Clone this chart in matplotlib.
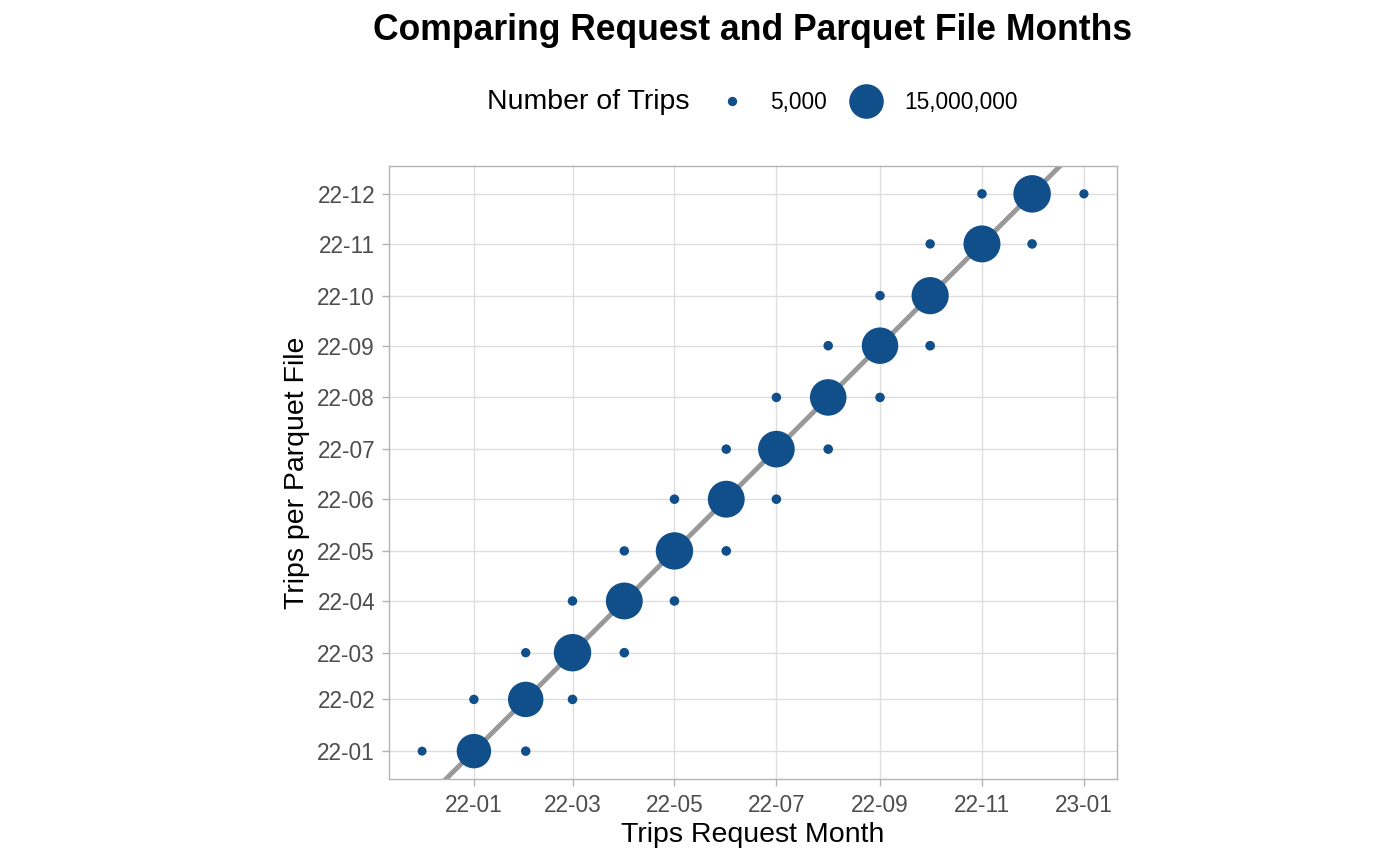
import numpy as np
import matplotlib
matplotlib.use("Agg")
from matplotlib import pyplot as plt
import matplotlib.dates as mdates
from matplotlib.lines import Line2D

# request month (x), parquet file month (y), number of trips
request_month = [
    "2022-01", "2022-02", "2022-03", "2022-04", "2022-05", "2022-06",
    "2022-07", "2022-08", "2022-09", "2022-10", "2022-11", "2022-12",
    "2021-12", "2022-02", "2022-01", "2022-03", "2022-02", "2022-04",
    "2022-03", "2022-05", "2022-04", "2022-06", "2022-05", "2022-07",
    "2022-06", "2022-08", "2022-07", "2022-09", "2022-08", "2022-10",
    "2022-09", "2022-10", "2022-12", "2022-11", "2023-01",
]
file_month = [
    "2022-01", "2022-02", "2022-03", "2022-04", "2022-05", "2022-06",
    "2022-07", "2022-08", "2022-09", "2022-10", "2022-11", "2022-12",
    "2022-01", "2022-01", "2022-02", "2022-02", "2022-03", "2022-03",
    "2022-04", "2022-04", "2022-05", "2022-05", "2022-06", "2022-06",
    "2022-07", "2022-07", "2022-08", "2022-08", "2022-09", "2022-09",
    "2022-10", "2022-11", "2022-11", "2022-12", "2022-12",
]
trips = [
    14800000, 16000000, 18500000, 17800000, 18400000, 17800000,
    17500000, 17400000, 17300000, 18200000, 17900000, 18600000,
    2100, 8400, 6300, 9100, 5200, 11800,
    7400, 10200, 6900, 12500, 8800, 9700,
    7100, 10900, 6600, 9300, 8200, 12100,
    7800, 6400, 10600, 9000, 3100,
]
legend_values = [5000, 15000000]
legend_labels = ["5,000", "15,000,000"]

POINT_COLOR = "#114F8A"
LINE_COLOR = "#999999"
GRID_COLOR = "#DEDEDE"
BORDER_COLOR = "#B3B3B3"
FONT = "Liberation Sans"

x = mdates.date2num(np.array(request_month, dtype="datetime64[D]"))
y = mdates.date2num(np.array(file_month, dtype="datetime64[D]"))
trips = np.array(trips, dtype=float)

vmin, vmax = trips.min(), trips.max()


def diam_pt(v):
    # area scale, ~9px to ~37.5px diameter
    px = 9 + 28.5 * np.sqrt(np.clip((np.asarray(v, float) - vmin) / (vmax - vmin), 0, 1))
    return px * 0.72


plt.rcParams["font.family"] = [FONT, "DejaVu Sans"]

fig = plt.figure(figsize=(14, 8.65), dpi=100)
ax = fig.add_axes([389 / 1400, 1 - 779 / 865, 728 / 1400, 613 / 865])

# y = x reference line
ax.axline((x.min(), x.min()), slope=1, color=LINE_COLOR, lw=3.5, zorder=2)
ax.scatter(x, y, s=diam_pt(trips) ** 2, color=POINT_COLOR, edgecolors="none", zorder=3)

xr = x.max() - x.min()
yr = y.max() - y.min()
ax.set_xlim(x.min() - 0.05 * xr, x.max() + 0.05 * xr)
ax.set_ylim(y.min() - 0.05 * yr, y.max() + 0.05 * yr)

ax.xaxis.set_major_locator(mdates.MonthLocator(bymonth=[1, 3, 5, 7, 9, 11]))
ax.xaxis.set_major_formatter(mdates.DateFormatter("%y-%m"))
ax.yaxis.set_major_locator(mdates.MonthLocator())
ax.yaxis.set_major_formatter(mdates.DateFormatter("%y-%m"))

ax.grid(True, color=GRID_COLOR, lw=1.0)
ax.set_axisbelow(True)
for sp in ax.spines.values():
    sp.set_color(BORDER_COLOR)
    sp.set_linewidth(1.0)
ax.tick_params(axis="both", colors=BORDER_COLOR, length=5, width=1.0,
               labelsize=16.3, labelcolor="#4D4D4D", pad=6)
ax.tick_params(axis="y", pad=5)

ax.set_xlabel("Trips Request Month", fontsize=20.5, va="baseline")
ax.xaxis.set_label_coords(0.5, -63 / 613)
ax.set_ylabel("Trips per Parquet File", fontsize=20.5, labelpad=5)

fig.text(753 / 1400, 1 - 40 / 865, "Comparing Request and Parquet File Months",
         fontsize=25.6, fontweight="bold", ha="center", va="baseline")

# legend
fig.text(487 / 1400, 1 - 109 / 865, "Number of Trips", fontsize=20.5,
         ha="left", va="baseline")
handles = [Line2D([], [], ls="none", marker="o", color=POINT_COLOR,
                  markeredgewidth=0, markersize=d) for d in diam_pt(legend_values)]
fig.legend(handles, legend_labels, loc="center left",
           bbox_to_anchor=(720.6 / 1400, 1 - 102 / 865), ncol=2, frameon=False,
           fontsize=16.4, handlelength=1.0, handletextpad=1.17, columnspacing=1.21,
           borderpad=0, borderaxespad=0)

fig.savefig("out.png", dpi=100)
